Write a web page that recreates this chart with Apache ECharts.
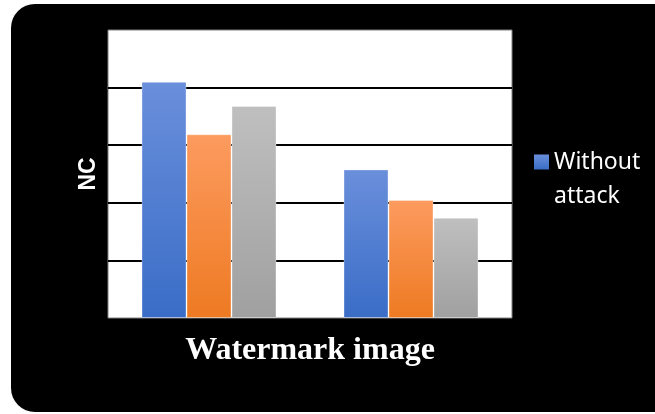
<!DOCTYPE html>
<html>
<head>
<meta charset="utf-8">
<script src="https://cdn.jsdelivr.net/npm/echarts@6/dist/echarts.min.js"></script>
<style>
  html, body { margin: 0; padding: 0; background: #ffffff; }
  #chart { width: 655px; height: 414px; }
</style>
</head>
<body>
<div id="chart"></div>
<script>
// Chart data
const categories = ['W1', 'W2'];
const seriesNames = ['Without attack', 'Attack 1', 'Attack 2'];
const withoutAttack = [0.82, 0.516];
const attack1 = [0.638, 0.41];
const attack2 = [0.736, 0.348];
const yTicks = { min: 0, max: 1, interval: 0.2 };

// Vertical gradients per bar, lighter at the top
function grad(top, bottom) {
  return new echarts.graphic.LinearGradient(0, 0, 0, 1, [
    { offset: 0, color: top },
    { offset: 1, color: bottom }
  ]);
}
const fills = [
  grad('#6a8fdb', '#3a6dc7'),
  grad('#fc9b5f', '#ee7a22'),
  grad('#bfbfbf', '#a0a0a0')
];
const values = [withoutAttack, attack1, attack2];

const chart = echarts.init(document.getElementById('chart'), null, { renderer: 'canvas' });

chart.setOption({
  backgroundColor: '#ffffff',
  animation: false,
  graphic: [{
    type: 'rect',
    z: -10,
    silent: true,
    shape: { x: 11, y: 4, width: 660, height: 408, r: [24, 0, 0, 24] },
    style: { fill: '#000000' }
  }],
  grid: {
    left: 108, right: 143, top: 30, bottom: 96,
    show: true,
    backgroundColor: '#ffffff',
    borderColor: '#808080',
    borderWidth: 1
  },
  legend: {
    data: [seriesNames[0]],
    left: 529,
    top: 106,
    itemWidth: 15,
    itemHeight: 15,
    icon: 'rect',
    itemStyle: { borderWidth: 0 },
    // leading blank line keeps the first word level with the swatch
    formatter: function (name) { return '\n' + name.replace(' ', '\n'); },
    textStyle: {
      color: '#ffffff',
      fontFamily: 'Noto Sans',
      fontSize: 23,
      lineHeight: 34
    }
  },
  xAxis: {
    type: 'category',
    data: categories,
    name: 'Watermark image',
    nameLocation: 'middle',
    nameGap: 17,
    nameTextStyle: {
      color: '#ffffff',
      fontFamily: 'Liberation Serif',
      fontWeight: 'bold',
      fontSize: 32
    },
    axisLine: { show: false },
    axisTick: { show: false },
    axisLabel: { show: false }
  },
  yAxis: {
    type: 'value',
    min: yTicks.min,
    max: yTicks.max,
    interval: yTicks.interval,
    name: 'NC',
    nameLocation: 'middle',
    nameGap: 8,
    nameTextStyle: {
      color: '#ffffff',
      fontFamily: 'Liberation Sans',
      fontWeight: 'bold',
      fontSize: 23
    },
    axisLine: { show: false },
    axisTick: { show: false },
    axisLabel: { show: false },
    splitLine: {
      show: true,
      showMinLine: false,
      showMaxLine: false,
      lineStyle: { color: '#000000', width: 2 }
    }
  },
  series: seriesNames.map(function (name, i) {
    return {
      name: name,
      type: 'bar',
      data: values[i],
      barWidth: 45,
      barGap: '0%',
      itemStyle: {
        color: fills[i],
        borderColor: 'rgba(255,255,255,0.35)',
        borderWidth: 1
      }
    };
  })
});
</script>
</body>
</html>
